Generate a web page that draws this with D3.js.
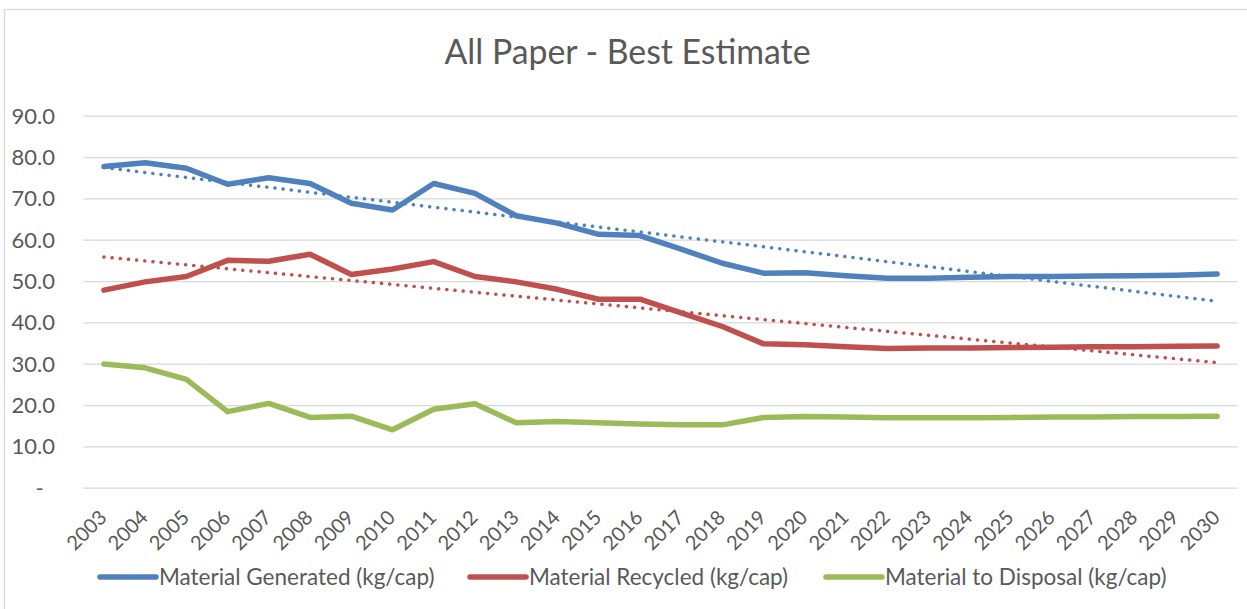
<!DOCTYPE html>
<html>
<head>
<meta charset="utf-8">
<script src="https://cdn.jsdelivr.net/npm/d3@7"></script>
<style>
  html, body { margin: 0; padding: 0; background: #fff; }
  svg { display: block; font-family: Lato, "Open Sans", sans-serif; }
</style>
</head>
<body>
<svg id="chart" width="1247" height="609"></svg>
<script>
const title = "All Paper - Best Estimate";
const years = ["2003","2004","2005","2006","2007","2008","2009","2010","2011","2012","2013","2014","2015","2016","2017","2018","2019","2020","2021","2022","2023","2024","2025","2026","2027","2028","2029","2030"];
const generated = [77.7,78.6,77.3,73.4,75.0,73.6,68.8,67.2,73.6,71.2,65.8,64.0,61.3,61.0,57.7,54.3,51.9,52.0,51.3,50.7,50.7,50.9,51.1,51.1,51.2,51.3,51.4,51.7];
const recycled = [47.8,49.8,51.1,55.0,54.8,56.5,51.6,52.9,54.7,51.1,49.8,48.0,45.6,45.6,42.3,39.0,34.8,34.6,34.1,33.7,33.8,33.8,33.9,34.0,34.1,34.1,34.2,34.3];
const disposal = [29.9,29.0,26.2,18.4,20.4,17.0,17.3,14.0,19.0,20.3,15.7,16.0,15.7,15.4,15.2,15.2,17.0,17.2,17.1,16.9,16.9,16.9,17.0,17.1,17.1,17.2,17.2,17.3];
const seriesNames = ["Material Generated (kg/cap)","Material Recycled (kg/cap)","Material to Disposal (kg/cap)"];
const yTicks = [0,10,20,30,40,50,60,70,80,90];
const yTickLabels = ["-","10.0","20.0","30.0","40.0","50.0","60.0","70.0","80.0","90.0"];
const trendSeries = [true, true, false];

const colors = ["#4F81BD","#C0504D","#9BBB59"];
const seriesData = [generated, recycled, disposal];

const svg = d3.select("#chart");
const plot = {left: 83.3, right: 1237.7, top: 115.7, bottom: 487.7};

// outer chart border
svg.append("rect").attr("x", 4.5).attr("y", 9.5).attr("width", 1260).attr("height", 620)
  .attr("fill", "none").attr("stroke", "#D9D9D9").attr("stroke-width", 1.3);

const x = d3.scaleBand().domain(years).range([plot.left, plot.right]).padding(0);
const xc = d => x(d) + x.bandwidth() / 2;
const y = d3.scaleLinear().domain([0, 90]).range([plot.bottom, plot.top]);

// title
svg.append("text").attr("x", 627.5).attr("y", 64).attr("text-anchor", "middle")
  .attr("font-size", 33.8).attr("fill", "#595959").text(title);

// gridlines
const yAxis = d3.axisLeft(y).tickValues(yTicks).tickSize(-(plot.right - plot.left))
  .tickFormat((d, i) => yTickLabels[i]);
const gy = svg.append("g").attr("transform", `translate(${plot.left},0)`).call(yAxis);
gy.select(".domain").remove();
gy.selectAll(".tick line").attr("stroke", "#D9D9D9").attr("stroke-width", 1.3);
gy.selectAll(".tick text").attr("x", -28.3).attr("dy", "0.34em")
  .attr("font-size", 22).attr("fill", "#595959").attr("font-family", "Lato, sans-serif");
gy.selectAll(".tick text").filter(d => d === 0).attr("x", -39.5);

// x axis labels
const xAxis = d3.axisBottom(x).tickSize(0);
const gx = svg.append("g").attr("transform", `translate(0,${plot.bottom})`).call(xAxis);
gx.select(".domain").remove();
gx.selectAll(".tick text")
  .attr("font-size", 20).attr("fill", "#595959").attr("font-family", "Lato, sans-serif")
  .attr("text-anchor", "end").attr("y", 0).attr("dy", 0)
  .attr("transform", "translate(4,31) rotate(-45)");

// lines
const line = d3.line().x((d, i) => xc(years[i])).y(d => y(d));
seriesData.forEach((data, k) => {
  svg.append("path").datum(data).attr("d", line).attr("fill", "none")
    .attr("stroke", colors[k]).attr("stroke-width", 5.5)
    .attr("stroke-linejoin", "round").attr("stroke-linecap", "round");
});

// linear trendlines (least squares over the data)
seriesData.forEach((data, k) => {
  if (!trendSeries[k]) return;
  const n = data.length;
  const xs = d3.range(1, n + 1);
  const mx = d3.mean(xs), my = d3.mean(data);
  const b = d3.sum(xs, (xi, i) => (xi - mx) * (data[i] - my)) / d3.sum(xs, xi => (xi - mx) ** 2);
  const a = my - b * mx;
  const ends = [[years[0], a + b * 1], [years[n - 1], a + b * n]];
  svg.append("path").datum(ends)
    .attr("d", d3.line().x(d => xc(d[0])).y(d => y(d[1])))
    .attr("fill", "none").attr("stroke", colors[k]).attr("stroke-width", 3.5)
    .attr("stroke-linecap", "round").attr("stroke-dasharray", "0.1,8.1");
});

// legend
const legendX = [100, 470, 826];
const legend = svg.append("g");
seriesNames.forEach((name, k) => {
  legend.append("line").attr("x1", legendX[k]).attr("x2", legendX[k] + 56)
    .attr("y1", 577).attr("y2", 577).attr("stroke", colors[k]).attr("stroke-width", 5.5)
    .attr("stroke-linecap", "round");
  legend.append("text").attr("x", legendX[k] + 59).attr("y", 585)
    .attr("font-size", 22.5).attr("fill", "#595959").text(name);
});
</script>
</body>
</html>
